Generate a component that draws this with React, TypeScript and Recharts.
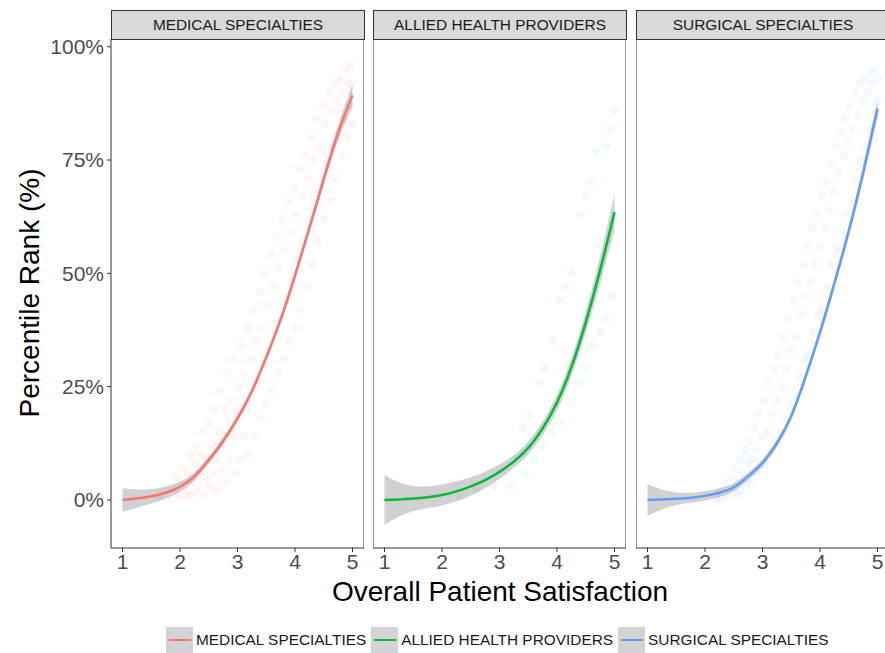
import React from 'react';
import { ComposedChart, Line, Area, Scatter, XAxis, YAxis, ReferenceArea } from 'recharts';

// fitted curves sampled on a common x grid (percent)
const xGrid = [1, 1.25, 1.5, 1.75, 2, 2.25, 2.5, 2.75, 3, 3.25, 3.5, 3.75, 4, 4.25, 4.5, 4.75, 5];

const medicalFit = [0, 0.3, 0.8, 1.6, 2.9, 5.2, 8.8, 13, 18, 24, 31.5, 39.8, 49.5, 60, 70.8, 81, 89.3];
const medicalSe = [2.6, 2.0, 1.6, 1.3, 1.1, 0.9, 0.8, 0.8, 0.8, 0.8, 0.8, 0.9, 1.0, 1.1, 1.3, 1.7, 2.5];

const alliedFit = [0, 0.1, 0.3, 0.6, 1.1, 1.9, 3.0, 4.4, 6.2, 8.5, 11.5, 15.8, 21.5, 29.3, 39.2, 50.7, 63.5];
const alliedSe = [5.5, 3.8, 2.8, 2.4, 2.3, 2.2, 2.0, 1.8, 1.6, 1.4, 1.4, 1.5, 1.7, 2.0, 2.4, 3.0, 4.0];

const surgicalFit = [0, 0.1, 0.25, 0.5, 0.9, 1.6, 2.8, 5.2, 8.2, 12.5, 18.5, 27.2, 37, 47.8, 59.3, 72.2, 86.3];
const surgicalSe = [3.5, 2.2, 1.4, 1.1, 1.0, 1.0, 0.9, 0.8, 0.8, 0.8, 0.8, 0.9, 1.0, 1.1, 1.3, 1.6, 2.0];

// raw observations (satisfaction, percentile rank)
const medicalPoints: [number, number][] = [
  [1.6, 0.5], [1.65, 2], [1.72, 1], [1.78, 3], [1.83, 0], [1.88, 2.5], [1.92, 5], [1.98, 1],
  [2.02, 4], [2.04, 7], [2.08, 0.5], [2.12, 2], [2.14, 6], [2.18, 10], [2.2, 1], [2.24, 4],
  [2.26, 8], [2.28, 12], [2.32, 2], [2.35, 6], [2.38, 10], [2.4, 15], [2.42, 1], [2.46, 5], [2.48, 9], [2.5, 17],
  [2.52, 3], [2.55, 12], [2.58, 6], [2.6, 20], [2.62, 9], [2.65, 2], [2.68, 15], [2.7, 24], [2.72, 7], [2.75, 12],
  [2.78, 20], [2.8, 4], [2.82, 28], [2.85, 9], [2.88, 22], [2.9, 14], [2.93, 31], [2.96, 6], [2.98, 19],
  [3.02, 25], [3.04, 9], [3.07, 34], [3.1, 14], [3.12, 28], [3.15, 20], [3.18, 38], [3.2, 10], [3.23, 31], [3.25, 24],
  [3.28, 42], [3.3, 14], [3.32, 35], [3.35, 26], [3.38, 46], [3.4, 18], [3.42, 38], [3.45, 30], [3.48, 50], [3.5, 21],
  [3.52, 43], [3.55, 33], [3.58, 54], [3.6, 24], [3.62, 47], [3.65, 37], [3.68, 58], [3.7, 28], [3.72, 51], [3.75, 40],
  [3.78, 62], [3.8, 31], [3.82, 55], [3.85, 44], [3.88, 66], [3.9, 35], [3.92, 59], [3.95, 48], [3.98, 69], [4.0, 38],
  [4.02, 63], [4.05, 53], [4.08, 73], [4.1, 42], [4.12, 67], [4.15, 57], [4.18, 76], [4.2, 47], [4.22, 71], [4.25, 61],
  [4.28, 80], [4.3, 52], [4.32, 75], [4.35, 65], [4.38, 84], [4.4, 57], [4.42, 78], [4.45, 69], [4.48, 87], [4.5, 62],
  [4.52, 83], [4.55, 74], [4.58, 90], [4.6, 66], [4.62, 86], [4.65, 78], [4.68, 92], [4.7, 71], [4.72, 88], [4.75, 81],
  [4.78, 93], [4.8, 76], [4.82, 90], [4.85, 84], [4.88, 95], [4.9, 80], [4.92, 92], [4.95, 87], [4.97, 96], [5.0, 83], [5.0, 92],
];

const alliedPoints: [number, number][] = [
  [2.3, 1], [2.6, 2], [2.9, 3], [3.2, 3], [3.4, 16], [3.45, 6], [3.52, 18.5], [3.6, 9], [3.69, 26],
  [3.75, 12], [3.78, 29], [3.9, 15], [3.92, 35], [4.04, 44], [4.05, 17], [4.15, 47], [4.27, 50],
  [4.27, 21], [4.39, 26], [4.42, 63], [4.5, 67], [4.5, 29], [4.6, 70], [4.62, 34], [4.68, 77],
  [4.75, 37], [4.85, 78], [4.85, 40], [4.92, 82], [4.95, 45], [4.99, 86],
];

const surgicalPoints: [number, number][] = [
  [2.2, 0], [2.25, 2], [2.3, 0.5], [2.35, 3.5], [2.4, 1], [2.45, 5], [2.5, 2.5],
  [2.52, 7], [2.55, 1], [2.58, 4], [2.6, 9], [2.63, 2], [2.66, 6], [2.7, 11], [2.72, 3.5], [2.75, 8],
  [2.78, 13], [2.8, 4], [2.83, 9], [2.86, 16], [2.88, 6], [2.9, 11], [2.93, 19], [2.96, 7], [2.98, 14],
  [3.02, 22], [3.05, 8], [3.08, 15], [3.1, 26], [3.13, 11], [3.16, 19], [3.2, 29], [3.22, 13], [3.25, 22],
  [3.28, 32], [3.3, 15], [3.33, 25], [3.36, 36], [3.38, 18], [3.41, 29], [3.44, 40], [3.47, 21], [3.5, 33],
  [3.53, 44], [3.56, 23], [3.59, 36], [3.62, 48], [3.65, 27], [3.68, 41], [3.71, 52], [3.73, 31], [3.75, 45],
  [3.78, 56], [3.8, 32], [3.83, 48], [3.86, 60], [3.88, 37], [3.91, 52], [3.94, 63], [3.96, 41], [3.99, 56],
  [4.02, 67], [4.05, 42], [4.08, 60], [4.1, 70], [4.13, 47], [4.16, 64], [4.19, 74], [4.21, 52], [4.24, 68],
  [4.27, 78], [4.3, 55], [4.33, 72], [4.36, 81], [4.38, 59], [4.41, 76], [4.44, 84], [4.46, 63], [4.49, 79],
  [4.52, 87], [4.55, 66], [4.58, 82], [4.61, 90], [4.63, 70], [4.66, 85], [4.69, 92], [4.71, 75], [4.74, 88],
  [4.77, 93], [4.8, 78], [4.83, 90], [4.86, 94], [4.88, 82], [4.91, 92], [4.94, 95], [4.96, 86], [5.0, 93], [5.0, 88],
];

const xTicks = [1, 2, 3, 4, 5];
const yTicks = [0, 25, 50, 75, 100];

const FONT = '"Liberation Sans", Arial, Helvetica, sans-serif';
const X_DOMAIN: [number, number] = [0.8, 5.2];
const Y_DOMAIN: [number, number] = [-10.6, 101.7];
const PLOT_TOP = 39;
const PLOT_H = 509;
const PLOT_W = 253;
const AXIS_H = 40;
const PAD_TOP = 12;

const buildCurve = (fit: number[], se: number[]) =>
  xGrid.map((x, i) => ({ x, fit: fit[i], band: [fit[i] - se[i], fit[i] + se[i]] }));

const toPoints = (pts: [number, number][]) => pts.map(([x, y]) => ({ x, y }));

const panels = [
  { name: 'MEDICAL SPECIALTIES', color: '#F8766D', fit: medicalFit, se: medicalSe, points: medicalPoints, alpha: 0.07, left: 111 },
  { name: 'ALLIED HEALTH PROVIDERS', color: '#00BA38', fit: alliedFit, se: alliedSe, points: alliedPoints, alpha: 0.06, left: 373 },
  { name: 'SURGICAL SPECIALTIES', color: '#619CFF', fit: surgicalFit, se: surgicalSe, points: surgicalPoints, alpha: 0.07, left: 636 },
];

function Panel({ p, showY }: { p: (typeof panels)[number]; showY: boolean }) {
  const yW = showY ? 111 : 0;
  return (
    <div style={{ position: 'absolute', left: p.left - yW, top: PLOT_TOP - PAD_TOP }}>
      <ComposedChart
        width={PLOT_W + yW}
        height={PLOT_H + AXIS_H + PAD_TOP}
        data={buildCurve(p.fit, p.se)}
        margin={{ top: PAD_TOP, right: 0, bottom: 0, left: 0 }}
      >
        <XAxis
          dataKey="x"
          type="number"
          domain={X_DOMAIN}
          allowDataOverflow
          ticks={xTicks}
          interval={0}
          height={AXIS_H}
          axisLine={false}
          tickSize={4}
          tickMargin={2}
          tickLine={{ stroke: '#333' }}
          tick={{ fill: '#4d4d4d', fontSize: 21, fontFamily: FONT }}
        />
        <YAxis
          type="number"
          domain={Y_DOMAIN}
          allowDataOverflow
          ticks={yTicks}
          interval={0}
          hide={!showY}
          width={yW || 60}
          axisLine={false}
          tickSize={4}
          tickMargin={3}
          tickLine={{ stroke: '#333' }}
          tickFormatter={(v: number) => `${v}%`}
          tick={{ fill: '#4d4d4d', fontSize: 21, fontFamily: FONT }}
        />
        <Scatter
          data={toPoints(p.points)}
          dataKey="y"
          isAnimationActive={false}
          shape={(s: any) => <circle cx={s.cx} cy={s.cy} r={4} fill={p.color} fillOpacity={p.alpha} />}
        />
        <Area
          type="natural"
          dataKey="band"
          stroke="none"
          fill="#999999"
          fillOpacity={0.45}
          isAnimationActive={false}
        />
        <Line
          type="natural"
          dataKey="fit"
          stroke={p.color}
          strokeWidth={2.5}
          dot={false}
          isAnimationActive={false}
        />
        <ReferenceArea
          x1={X_DOMAIN[0]}
          x2={X_DOMAIN[1]}
          y1={Y_DOMAIN[0]}
          y2={Y_DOMAIN[1]}
          fill="none"
          stroke="#333"
          strokeWidth={1}
          ifOverflow="visible"
        />
      </ComposedChart>
    </div>
  );
}

export default function App() {
  return (
    <div
      style={{
        position: 'absolute',
        left: 0,
        top: 0,
        width: 885,
        height: 653,
        overflow: 'hidden',
        background: '#fff',
        fontFamily: FONT,
      }}
    >
      {panels.map((p, i) => (
        <Panel key={p.name} p={p} showY={i === 0} />
      ))}

      {panels.map((p) => (
        <div
          key={p.name}
          style={{
            position: 'absolute',
            left: p.left,
            top: 10,
            width: PLOT_W + 1,
            height: PLOT_TOP - 10 + 1,
            boxSizing: 'border-box',
            border: '1px solid #333',
            background: '#d9d9d9',
            color: '#1a1a1a',
            fontSize: 15.4,
            lineHeight: '28px',
            textAlign: 'center',
            whiteSpace: 'nowrap',
          }}
        >
          {p.name}
        </div>
      ))}

      <div
        style={{
          position: 'absolute',
          left: 30,
          top: 293,
          transform: 'translate(-50%, -50%) rotate(-90deg)',
          fontSize: 28,
          whiteSpace: 'nowrap',
          color: '#000',
        }}
      >
        Percentile Rank (%)
      </div>

      <div
        style={{
          position: 'absolute',
          left: 500,
          top: 592,
          transform: 'translate(-50%, -50%)',
          fontSize: 28,
          whiteSpace: 'nowrap',
          color: '#000',
        }}
      >
        Overall Patient Satisfaction
      </div>

      <div
        style={{
          position: 'absolute',
          left: 166,
          top: 627,
          height: 26,
          display: 'flex',
          alignItems: 'center',
          fontSize: 15.4,
          color: '#1a1a1a',
          whiteSpace: 'nowrap',
        }}
      >
        {panels.map((p) => (
          <React.Fragment key={p.name}>
            <span
              style={{
                width: 27,
                height: 26,
                background: '#d3d3d3',
                display: 'flex',
                alignItems: 'center',
                justifyContent: 'center',
              }}
            >
              <span style={{ width: 22, height: 2.5, background: p.color, display: 'block' }} />
            </span>
            <span style={{ marginLeft: 3, marginRight: 5 }}>{p.name}</span>
          </React.Fragment>
        ))}
      </div>
    </div>
  );
}
